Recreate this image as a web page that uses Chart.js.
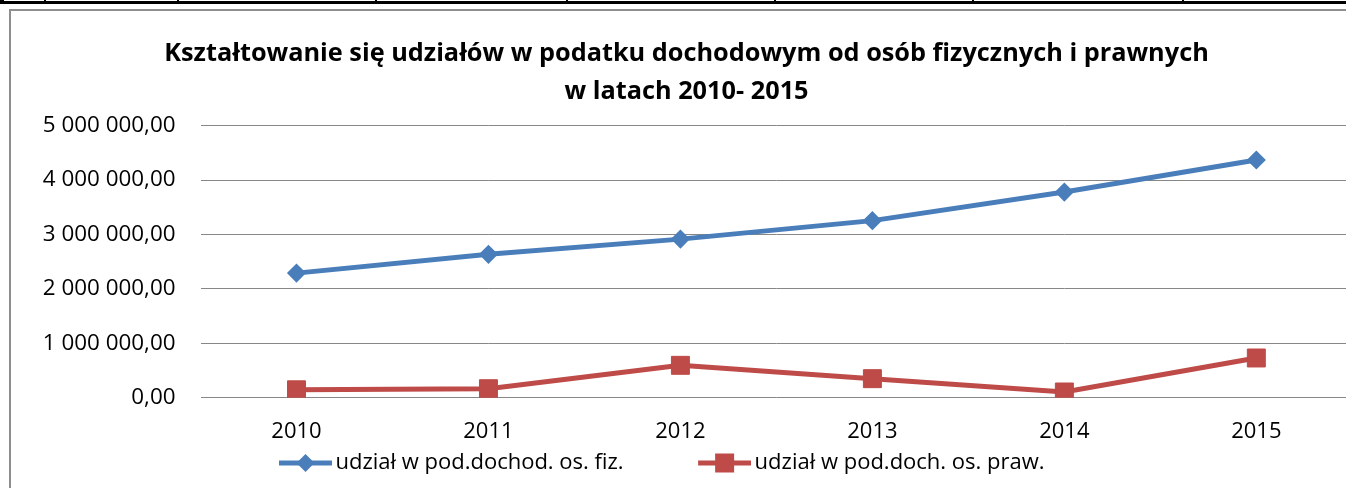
<!DOCTYPE html>
<html>
<head>
<meta charset="utf-8">
<script src="https://cdn.jsdelivr.net/npm/chart.js@4/dist/chart.umd.min.js"></script>
<style>
  html, body { margin: 0; padding: 0; background: #fff; overflow: hidden; width: 1346px; height: 488px; }
  ::-webkit-scrollbar { display: none; }
  .rule { position: absolute; left: 0; top: 1px; width: 1346px; height: 3px; background: #000; }
  .tick { position: absolute; top: 0; width: 2px; height: 4px; background: #000; }
  #frame { position: absolute; left: 9px; top: 9px; width: 1335px; height: 477px; overflow: hidden; border-left: 2px solid #8e8e8e; border-top: 2px solid #8e8e8e; }
  #frame canvas { display: block; }
</style>
</head>
<body>
<div class="rule"></div>
<div class="tick" style="left:0;width:4px"></div>
<div class="tick" style="left:44px"></div>
<div class="tick" style="left:177px"></div>
<div class="tick" style="left:375px"></div>
<div class="tick" style="left:566px"></div>
<div class="tick" style="left:774px"></div>
<div class="tick" style="left:972px"></div>
<div class="tick" style="left:1182px"></div>
<div id="frame"><canvas id="chart" width="1355" height="473"></canvas></div>
<script>
// dane
const years = ['2010', '2011', '2012', '2013', '2014', '2015'];
const udzialFiz = [2290000, 2635000, 2915000, 3255000, 3780000, 4370000];
const udzialPraw = [145000, 165000, 595000, 350000, 105000, 730000];
const yTickLabels = ['0,00', '1 000 000,00', '2 000 000,00', '3 000 000,00', '4 000 000,00', '5 000 000,00'];

const BLUE = '#4a7ebb';
const RED = '#be4b48';
const FONT = '"Open Sans", sans-serif';

// probka legendy: linia z markerem, z pustym miejscem po lewej (odstep miedzy pozycjami)
const BOX_W = 110;
function legendSample(color, shape) {
  const c = document.createElement('canvas');
  c.width = BOX_W + 15;
  c.height = 22;
  const g = c.getContext('2d');
  const x1 = c.width, x0 = x1 - 53, cy = 11;
  g.strokeStyle = color;
  g.lineWidth = 5;
  g.beginPath(); g.moveTo(x0, cy); g.lineTo(x1, cy); g.stroke();
  g.fillStyle = color;
  const mx = (x0 + x1) / 2;
  g.beginPath();
  if (shape === 'diamond') {
    g.moveTo(mx, cy - 9); g.lineTo(mx + 9, cy); g.lineTo(mx, cy + 9); g.lineTo(mx - 9, cy);
  } else {
    g.rect(mx - 9.5, cy - 9.5, 19, 19);
  }
  g.closePath(); g.fill();
  return c;
}
const samples = [legendSample(BLUE, 'diamond'), legendSample(RED, 'square')];

const shiftLegend = {
  id: 'shiftLegend',
  afterLayout(chart) {
    chart.legend.left -= 57;
    chart.legend.right -= 57;
  }
};

new Chart(document.getElementById('chart'), {
  type: 'line',
  data: {
    labels: years,
    datasets: [{
      label: 'udział w pod.dochod. os. fiz.',
      data: udzialFiz,
      borderColor: BLUE,
      backgroundColor: BLUE,
      borderWidth: 5,
      pointStyle: 'rectRot',
      pointRadius: 8.5,
      pointBorderWidth: 1.5,
      tension: 0
    }, {
      label: 'udział w pod.doch. os. praw.',
      data: udzialPraw,
      borderColor: RED,
      backgroundColor: RED,
      borderWidth: 5,
      pointStyle: 'rect',
      pointRadius: 12.7,
      pointBorderWidth: 1,
      tension: 0
    }]
  },
  options: {
    responsive: false,
    animation: false,
    layout: { padding: { left: 6.5, right: 10.5, top: 0, bottom: 0 } },
    plugins: {
      title: {
        display: true,
        text: ['Kształtowanie się udziałów w podatku dochodowym od osób fizycznych i prawnych', 'w latach 2010- 2015'],
        color: '#000',
        font: { family: FONT, size: 25.3, weight: 'bold', lineHeight: 38 / 25.3 },
        padding: { top: 24, bottom: 14.7 }
      },
      legend: {
        position: 'bottom',
        labels: {
          usePointStyle: true,
          pointStyleWidth: BOX_W,
          padding: 10,
          color: '#000',
          font: { family: FONT, size: 22 },
          generateLabels(chart) {
            const items = Chart.defaults.plugins.legend.labels.generateLabels(chart);
            items.forEach((it, i) => { it.pointStyle = samples[i]; });
            return items;
          }
        }
      },
      tooltip: { enabled: false }
    },
    scales: {
      x: {
        offset: true,
        grid: { display: false, drawTicks: false },
        border: { display: false },
        ticks: { color: '#000', font: { family: FONT, size: 22 }, padding: 20.5, maxRotation: 0 },
        afterFit(scale) { scale.height = 44.3; }
      },
      y: {
        min: 0,
        max: 5000000,
        grid: { color: '#878787', lineWidth: 1, drawTicks: false },
        border: { display: false },
        ticks: {
          stepSize: 1000000,
          color: '#000',
          font: { family: FONT, size: 22.4 },
          padding: 25,
          callback: (v, i) => yTickLabels[i]
        },
        afterFit(scale) { scale.width = 183; }
      }
    }
  },
  plugins: [shiftLegend]
});
</script>
</body>
</html>
